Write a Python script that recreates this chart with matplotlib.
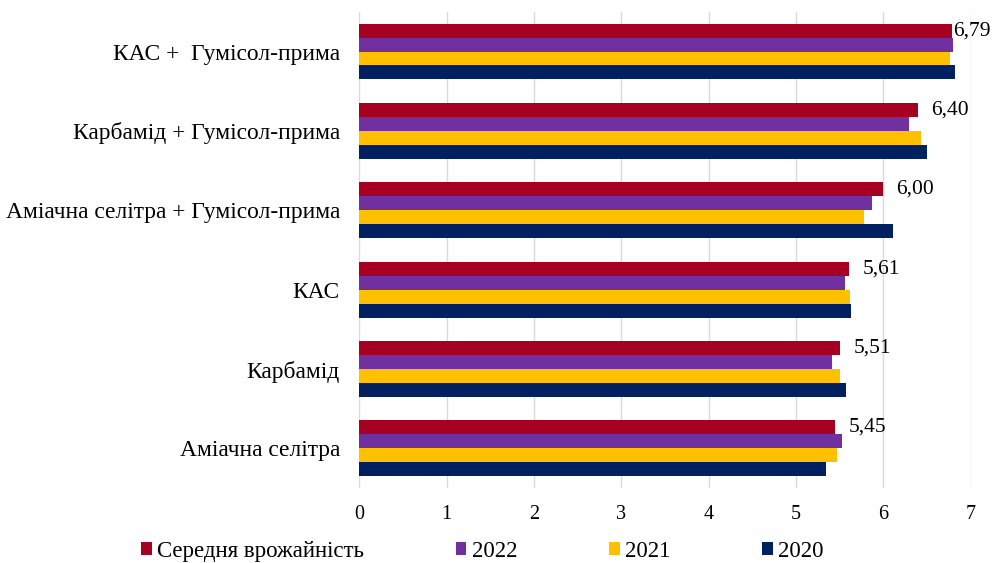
import matplotlib.pyplot as plt
import numpy as np

plt.rcParams['font.family'] = ['Liberation Serif', 'DejaVu Serif']

# categories top to bottom
categories = ['КАС +  Гумісол-прима', 'Карбамід + Гумісол-прима',
              'Аміачна селітра + Гумісол-прима', 'КАС', 'Карбамід', 'Аміачна селітра']
avg_yield = [6.79, 6.40, 6.00, 5.61, 5.51, 5.45]
y2022 = [6.80, 6.30, 5.87, 5.56, 5.41, 5.53]
y2021 = [6.77, 6.43, 5.78, 5.62, 5.51, 5.47]
y2020 = [6.82, 6.50, 6.11, 5.63, 5.57, 5.34]
avg_labels = ['6,79', '6,40', '6,00', '5,61', '5,51', '5,45']

series = [avg_yield, y2022, y2021, y2020]
names = ['Середня врожайність', '2022', '2021', '2020']
colors = ['#A50021', '#7030A0', '#FFC000', '#002060']

fig = plt.figure(figsize=(9.97, 5.63), dpi=100)
ax = fig.add_axes([0.3605, 0.133, 0.613, 0.846])

y = np.arange(len(categories))
h = 0.176
for k, (vals, c, n) in enumerate(zip(series, colors, names)):
    ax.barh(y + (k - 1.5) * h, vals, height=h, color=c, label=n, zorder=3)

# value labels next to the average bars
for i, (v, lab) in enumerate(zip(avg_yield, avg_labels)):
    dx = 0.5 if v > 6.7 else 9.5
    ax.annotate(lab, (v, y[i] - 1.5 * h), xytext=(dx, 0), textcoords='offset points',
                ha='left', va='center', fontsize=15.5, zorder=4)

ax.set_xlim(0, 7)
ax.set_ylim(len(categories) - 0.5, -0.5)
ax.set_xticks(range(8))
ax.set_yticks(y)
ax.set_yticklabels(categories, fontsize=16.9)
ax.tick_params(axis='x', labelsize=14.5, length=0, pad=12.5)
ax.tick_params(axis='y', length=0, pad=14)
ax.grid(axis='x', color='#d9d9d9', linewidth=1, zorder=0)
for s in ax.spines.values():
    s.set_visible(False)

fig.legend(loc='center', bbox_to_anchor=(0.484, 0.021), ncol=4, frameon=False,
           fontsize=16.5, handlelength=0.45, handleheight=0.45, handletextpad=0.25,
           columnspacing=4.0)

fig.savefig('out.png', dpi=100)
